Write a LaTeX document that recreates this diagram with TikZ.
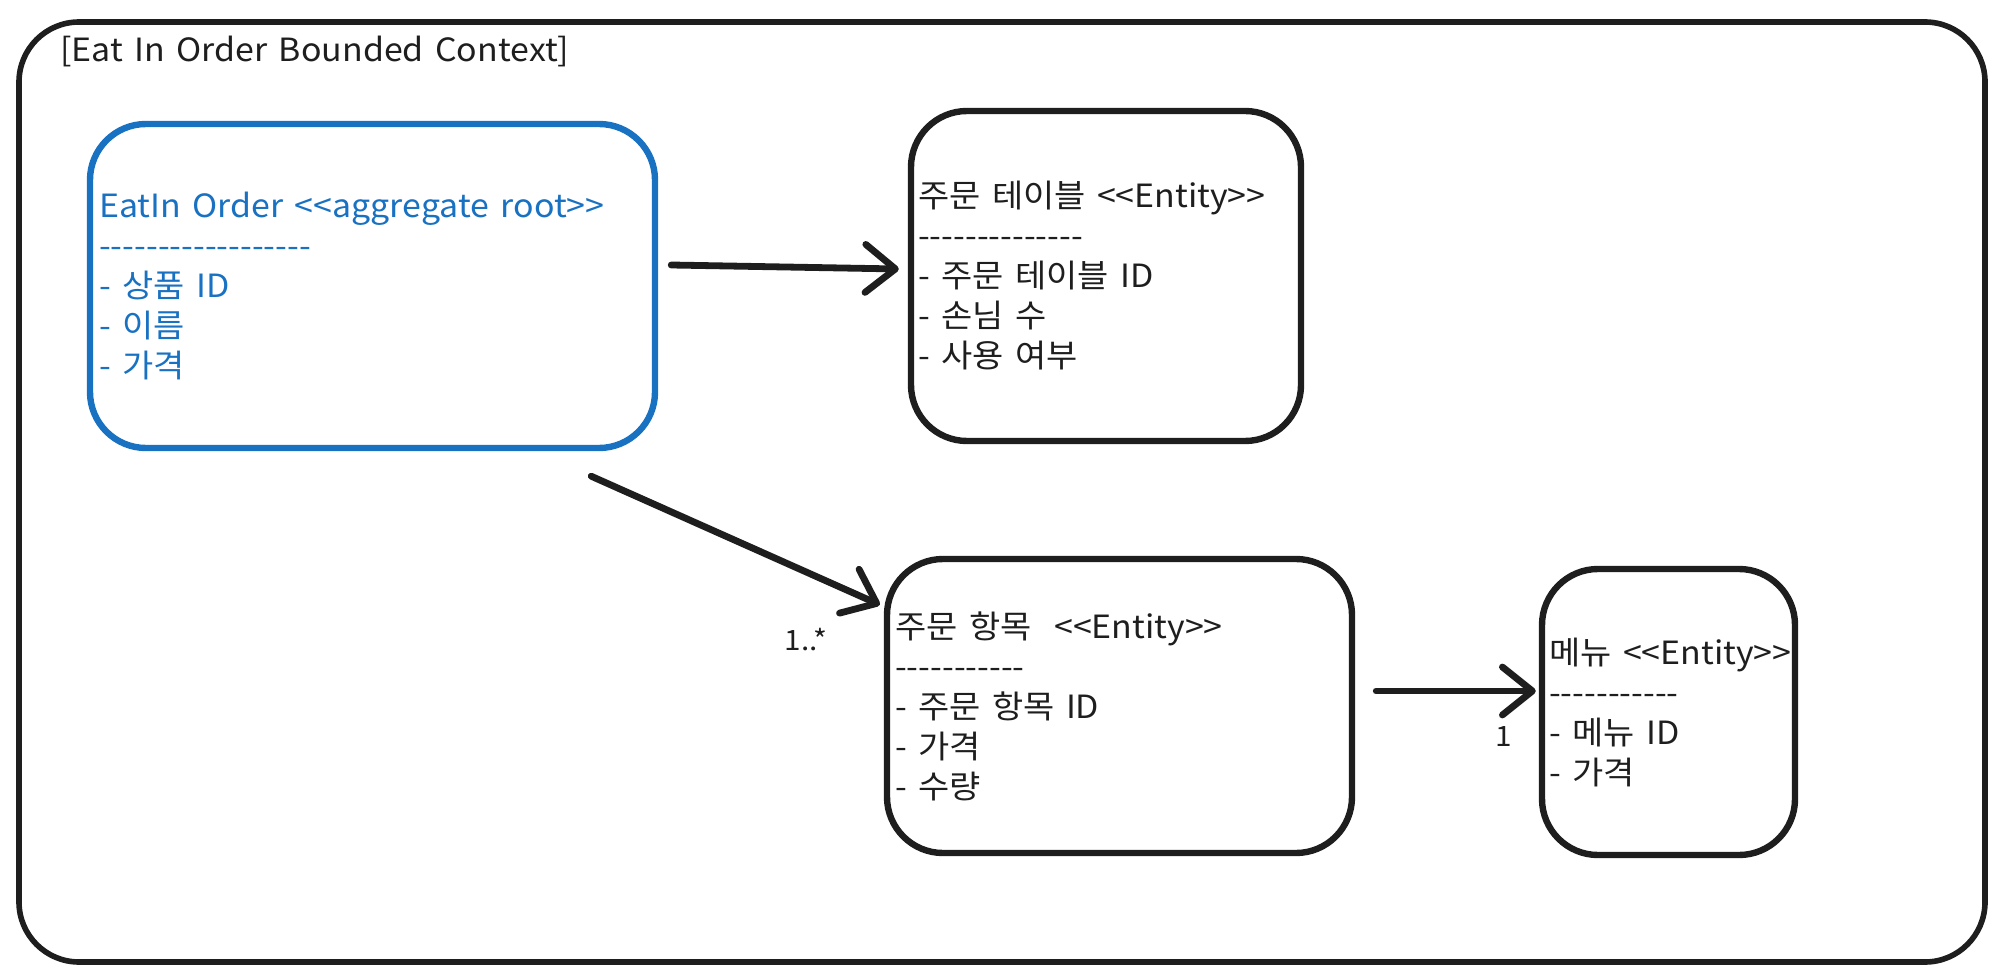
\documentclass[tikz,border=0pt]{standalone}
\usepackage{fontspec}
\setmainfont{Noto Sans CJK KR}[FakeStretch=1.06,WordSpace=1.5]
\usetikzlibrary{arrows.meta,positioning,calc}
\definecolor{ink}{HTML}{1E1E1E}
\definecolor{rootblue}{HTML}{1971C2}
\newcommand\stereo[1]{<\kern0pt<#1>\kern0pt>}
\newcommand\dashrow[1]{\foreach \n in {1,...,#1}{-\kern0pt}}
\tikzset{frame/.style={draw=ink,line width=2.8pt,rounded corners=30pt,inner sep=0pt},
  classbox/.style={draw=ink,line width=3.2pt,rounded corners=28pt,inner sep=0pt},
  rootbox/.style={classbox,draw=rootblue},
  members/.style={align=left,inner sep=0pt,font=\fontsize{16}{20}\selectfont,text=ink},
  mult/.style={font=\fontsize{14}{16}\selectfont,text=ink,inner sep=0pt},
  arrow/.style={-{Straight Barb[length=15pt,width=24pt,line width=3.4pt,round]},line width=3.4pt,line cap=round,draw=ink}}

\begin{document}
\begin{tikzpicture}[x=0.5pt,y=-0.5pt]
  \path[use as bounding box] (0,0) rectangle (2006,978);
  % bounded context
  \node[frame,minimum width=983pt,minimum height=470pt] (ctx) at (1002,492) {};
  \node[members,anchor=west] (ctxtitle) at (60,51) {[Eat In Order Bounded Context]};
  % boxes
  \node[rootbox,minimum width=282.5pt,minimum height=162pt] (eatin) at (372.5,286) {};
  \node[classbox,minimum width=195pt,minimum height=165pt] (table) at (1106,276) {};
  \node[classbox,minimum width=232.5pt,minimum height=147pt] (item) at (1119.5,706) {};
  \node[classbox,minimum width=126.5pt,minimum height=143pt] (menu) at (1668.5,712) {};
  % members
  \node[members,text=rootblue,right=6pt of eatin.west] (eatintext)
    {EatIn Order \stereo{aggregate root}\\ \dashrow{18}\\ - 상품 ID\\ - 이름\\ - 가격};
  \node[members,right=5pt of table.west] (tabletext)
    {주문 테이블 \stereo{Entity}\\ \dashrow{14}\\ - 주문 테이블 ID\\ - 손님 수\\ - 사용 여부};
  \node[members,right=5.5pt of item.west] (itemtext)
    {주문 항목~ \stereo{Entity}\\ \dashrow{11}\\ - 주문 항목 ID\\ - 가격\\ - 수량};
  \node[members,right=5pt of menu.west] (menutext)
    {메뉴 \stereo{Entity}\\ \dashrow{11}\\ - 메뉴 ID\\ - 가격};
  % links
  \draw[arrow] ($(eatin.east)+(13,-21)$) -- ($(table.west)+(-9,-7)$);
  \draw[arrow] ($(eatin.south east)+(-67,25)$) -- ($(item.north west)+(-4,49)$);
  \draw[arrow] ($(item.east)+(21,-15)$) -- ($(menu.west)+(-3,-21)$);
  \node[mult] (manyitems) at (806,640) {1..*};
  \node[mult] (onemenu) at (1504,737) {1};
\end{tikzpicture}
\end{document}
